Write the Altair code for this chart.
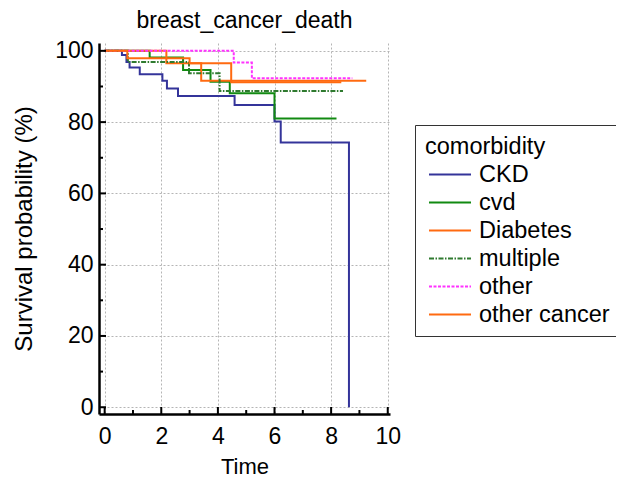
import altair as alt
import pandas as pd

groups = ["CKD", "cvd", "Diabetes", "multiple", "other", "other cancer"]
colors = ["#34349a", "#118a11", "#ff6a10", "#2f7a2f", "#ff33ff", "#ff6a10"]
dashes = [[1, 0], [1, 0], [1, 0], [5, 1.5, 1.5, 1.5], [3, 1.5], [1, 0]]

ckd_t = [0, 0.61, 0.77, 0.88, 1.24, 2.04, 2.20, 2.59, 4.59, 6.00, 6.22, 8.63]
ckd_s = [100, 98.8, 96.9, 95.3, 93.4, 91.6, 89.4, 87.3, 84.8, 80.2, 74.3, 0]
cvd_t = [0, 1.59, 2.77, 3.74, 4.42, 6.00, 8.19]
cvd_s = [100, 98.1, 94.6, 91.3, 88.1, 81.0, 81.0]
diab_t = [0, 2.18, 3.41, 9.24]
diab_s = [100, 96.5, 91.6, 91.6]
mult_t = [0, 0.82, 2.98, 4.06, 8.42]
mult_s = [100, 96.9, 93.7, 88.7, 88.7]
other_t = [0, 4.56, 5.20, 8.75]
other_s = [100, 96.7, 92.3, 92.3]
othc_t = [0, 0.80, 3.00, 4.47, 8.36]
othc_s = [100, 97.9, 96.5, 91.2, 91.2]

x_major = [0, 2, 4, 6, 8, 10]
x_minor = [1, 3, 5, 7, 9]
y_major = [0, 20, 40, 60, 80, 100]
y_minor = [10, 30, 50, 70, 90]

series = [(ckd_t, ckd_s), (cvd_t, cvd_s), (diab_t, diab_s),
          (mult_t, mult_s), (other_t, other_s), (othc_t, othc_s)]
rows = []
for g, (ts, ss) in zip(groups, series):
    for i, (t, s) in enumerate(zip(ts, ss)):
        rows.append({"comorbidity": g, "t": t, "s": s, "order": i})
df = pd.DataFrame(rows)

W, H = 291, 371
xs = alt.Scale(domain=[-0.2, 10.08], nice=False, zero=False)
ys = alt.Scale(domain=[-1.9, 102.2], nice=False, zero=False)
xax = alt.Axis(values=x_major, grid=True, tickSize=0, labelPadding=11, titlePadding=8,
               titleFontSize=22)
yax = alt.Axis(values=y_major, grid=True, tickSize=0, labelPadding=6, titlePadding=18,
               titleFontSize=24)

lines = alt.Chart(df).mark_line(interpolate="step-after", strokeWidth=2).encode(
    x=alt.X("t:Q", scale=xs, title="Time", axis=xax),
    y=alt.Y("s:Q", scale=ys, title="Survival probability (%)", axis=yax),
    color=alt.Color("comorbidity:N", scale=alt.Scale(domain=groups, range=colors),
                    sort=groups,
                    legend=alt.Legend(title="comorbidity", orient="none",
                                      legendX=316, legendY=82)),
    strokeDash=alt.StrokeDash("comorbidity:N",
                              scale=alt.Scale(domain=groups, range=dashes),
                              sort=groups),
    order="order:Q",
    detail="comorbidity:N",
)

xmaj = alt.Chart(pd.DataFrame({"t": x_major})).mark_rule(color="black", strokeWidth=2).encode(
    x=alt.X("t:Q", scale=xs, title="Time", axis=xax), y=alt.value(H), y2=alt.value(H - 7))
xmin = alt.Chart(pd.DataFrame({"t": x_minor})).mark_rule(color="black", strokeWidth=2).encode(
    x=alt.X("t:Q", scale=xs, title="Time", axis=xax), y=alt.value(H), y2=alt.value(H - 4))
ymaj = alt.Chart(pd.DataFrame({"s": y_major})).mark_rule(color="black", strokeWidth=2).encode(
    y=alt.Y("s:Q", scale=ys, title="Survival probability (%)", axis=yax),
    x=alt.value(0), x2=alt.value(7))
ymin = alt.Chart(pd.DataFrame({"s": y_minor})).mark_rule(color="black", strokeWidth=2).encode(
    y=alt.Y("s:Q", scale=ys, title="Survival probability (%)", axis=yax),
    x=alt.value(0), x2=alt.value(4))

chart = alt.layer(lines, xmaj, xmin, ymaj, ymin).properties(
    width=W, height=H,
    title=alt.TitleParams("breast_cancer_death", fontSize=23, font="Liberation Sans",
                          fontWeight="normal", color="black", offset=7),
    autosize=alt.AutoSizeParams(type="none"),
    padding={"left": 91, "top": 35, "right": 226, "bottom": 68},
).configure_view(stroke=None).configure_axis(
    labelFont="Liberation Sans", titleFont="Liberation Sans",
    labelFontSize=23, titleFontWeight="normal",
    labelColor="black", titleColor="black",
    domainColor="black", domainWidth=2.5,
    gridColor="#b5b5b5", gridDash=[2, 2], gridWidth=1,
).configure_legend(
    labelFont="Liberation Sans", titleFont="Liberation Sans",
    labelFontSize=23.5, titleFontSize=23.5, titleFontWeight="normal",
    labelColor="black", titleColor="black",
    strokeColor="#333333", padding=10,
    symbolType="M-1.75,0H1.75", symbolSize=576, symbolStrokeWidth=2,
    symbolOffset=12, rowPadding=3, titlePadding=3, labelOffset=16,
)

chart.save("out.html", embed_options={"renderer": "svg", "actions": False})
